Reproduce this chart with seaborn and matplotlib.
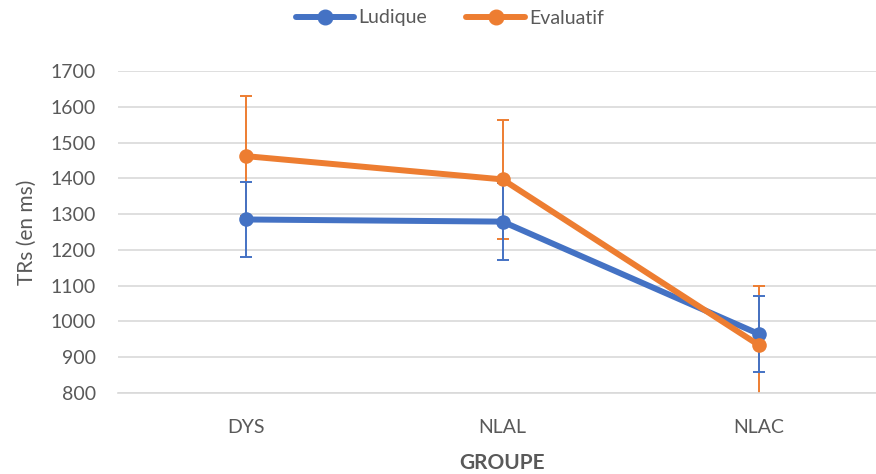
import matplotlib
matplotlib.use("Agg")
import matplotlib.pyplot as plt
import seaborn as sns
import pandas as pd

groups = ["DYS", "NLAL", "NLAC"]
ludique = [1285, 1279, 965]
ludique_err = [106, 107, 106]
evaluatif = [1462, 1397, 934]
evaluatif_err = [168, 166, 166]
series_names = ["Ludique", "Evaluatif"]
yticks = [800, 900, 1000, 1100, 1200, 1300, 1400, 1500, 1600, 1700]

df = pd.DataFrame({
    "groupe": groups * 2,
    "trs": ludique + evaluatif,
    "serie": [series_names[0]] * 3 + [series_names[1]] * 3,
})

sns.set_theme(style="white")
plt.rcParams["font.family"] = ["Lato", "DejaVu Sans"]

blue = "#4472C4"
orange = "#ED7D31"
gray_text = "#595959"

fig = plt.figure(figsize=(8.76, 4.74), dpi=100)
ax = fig.add_axes([118 / 876, 1 - 393 / 474, (887 - 118) / 876, (393 - 71) / 474])

# error bars
ax.errorbar(groups, ludique, yerr=ludique_err, fmt="none", ecolor=blue,
            elinewidth=1.4, capsize=4.5, capthick=1.4, zorder=3)
ax.errorbar(groups, evaluatif, yerr=evaluatif_err, fmt="none", ecolor=orange,
            elinewidth=1.4, capsize=4.5, capthick=1.4, zorder=2)

sns.lineplot(data=df, x="groupe", y="trs", hue="serie", palette=[blue, orange],
             marker="o", markersize=10.5, markeredgewidth=0, linewidth=4.3,
             ax=ax, legend=False, zorder=4)

ax.set_xlim(-0.5, 2.5)
ax.set_ylim(800, 1700)
ax.set_yticks(yticks)
ax.yaxis.grid(True, color="#D9D9D9", linewidth=1.2)
ax.set_axisbelow(True)
for s in ["top", "right", "left"]:
    ax.spines[s].set_visible(False)
ax.spines["bottom"].set_color("#D9D9D9")
ax.spines["bottom"].set_linewidth(1.2)
ax.tick_params(axis="y", length=0, labelsize=14, colors=gray_text, pad=16)
ax.tick_params(axis="x", length=0, labelsize=14, colors=gray_text, pad=19)
ax.set_xlabel("GROUPE", fontsize=15, fontweight="bold", color=gray_text, labelpad=12)
ax.set_ylabel("TRs (en ms)", fontsize=15, color=gray_text, labelpad=10)

from matplotlib.lines import Line2D
handles = [Line2D([0], [0], color=blue, lw=4.3, marker="o", markersize=10.5),
           Line2D([0], [0], color=orange, lw=4.3, marker="o", markersize=10.5)]
leg = fig.legend(handles, series_names, loc="center", bbox_to_anchor=(450 / 876, 1 - 18 / 474),
                 ncol=2, frameon=False, fontsize=14, handlelength=3.0, handletextpad=0.25,
                 columnspacing=2.0)
for t in leg.get_texts():
    t.set_color(gray_text)

fig.savefig("out.png", dpi=100)
